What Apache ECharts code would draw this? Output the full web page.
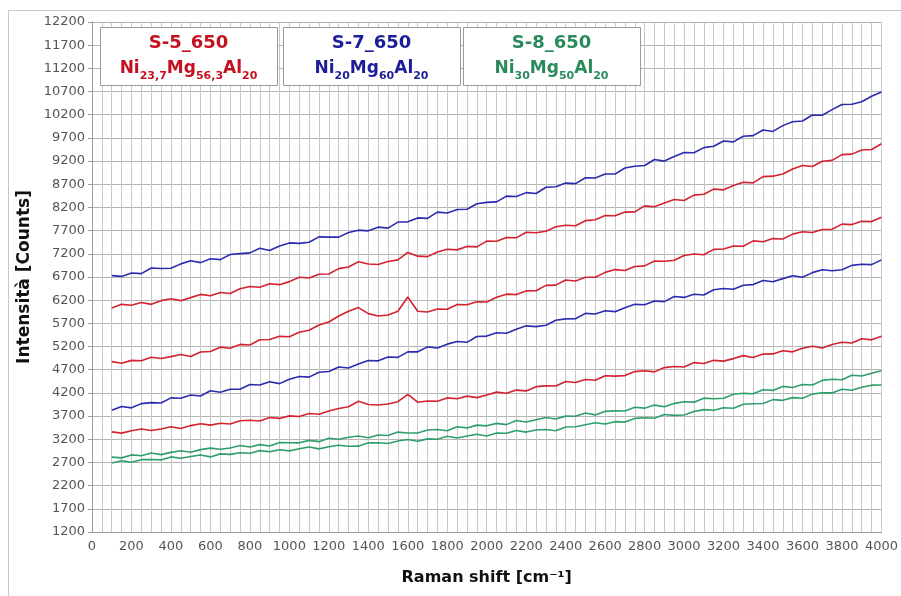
<!DOCTYPE html>
<html>
<head>
<meta charset="utf-8">
<script src="https://cdn.jsdelivr.net/npm/echarts@6/dist/echarts.min.js"></script>
<style>
html,body{margin:0;padding:0;background:#fff;}
#chart{width:901px;height:596px;}
</style>
</head>
<body>
<div id="chart"></div>
<script>
// Raman shift axis positions [cm-1]
const ramanShift = [100,150,200,250,300,350,400,450,500,550,600,650,700,750,800,850,900,950,1000,1050,1100,1150,1200,1250,1300,1350,1400,1450,1500,1550,1600,1650,1700,1750,1800,1850,1900,1950,2000,2050,2100,2150,2200,2250,2300,2350,2400,2450,2500,2550,2600,2650,2700,2750,2800,2850,2900,2950,3000,3050,3100,3150,3200,3250,3300,3350,3400,3450,3500,3550,3600,3650,3700,3750,3800,3850,3900,3950,4000];

// S-7_650 (blue) upper spectrum
const blueUpper = [6730,6713,6785,6773,6895,6883,6890,6983,7050,7010,7095,7075,7185,7205,7220,7320,7270,7370,7435,7425,7450,7565,7560,7560,7660,7710,7695,7775,7755,7885,7890,7975,7965,8100,8080,8155,8160,8280,8310,8320,8445,8435,8520,8500,8635,8645,8725,8715,8840,8835,8920,8920,9050,9090,9105,9235,9200,9300,9385,9380,9490,9520,9635,9615,9735,9750,9870,9840,9965,10050,10065,10195,10190,10310,10420,10425,10480,10600,10690];
// S-5_650 (red) upper spectrum
const redUpper = [6030,6110,6090,6150,6110,6190,6230,6190,6255,6325,6295,6365,6345,6445,6495,6480,6555,6535,6600,6695,6680,6760,6765,6880,6915,7030,6980,6970,7035,7070,7230,7150,7140,7240,7300,7285,7360,7350,7475,7470,7550,7545,7665,7655,7685,7785,7815,7805,7915,7935,8025,8020,8100,8105,8235,8215,8295,8370,8350,8465,8485,8595,8580,8675,8745,8730,8865,8875,8920,9030,9105,9085,9195,9215,9340,9350,9440,9450,9575];
// S-5_650 (red) middle spectrum
const redMiddle = [4875,4841,4902,4894,4970,4941,4982,5029,4985,5082,5094,5187,5164,5246,5233,5346,5353,5420,5410,5510,5550,5665,5730,5860,5960,6040,5910,5860,5880,5960,6270,5960,5945,6010,6005,6105,6100,6165,6160,6265,6330,6320,6400,6405,6520,6525,6635,6615,6695,6695,6800,6860,6840,6925,6940,7045,7040,7060,7165,7197,7179,7296,7303,7370,7362,7479,7461,7528,7520,7625,7675,7660,7725,7730,7840,7830,7900,7895,7990];
// S-7_650 (blue) lower spectrum
const blueLower = [3825,3906,3878,3969,3990,3981,4093,4084,4155,4135,4245,4215,4280,4280,4380,4370,4440,4400,4495,4553,4541,4644,4662,4760,4738,4821,4899,4892,4975,4967,5084,5086,5193,5170,5252,5309,5291,5418,5425,5499,5488,5572,5646,5630,5659,5768,5797,5801,5915,5901,5972,5953,6039,6110,6101,6182,6168,6279,6260,6328,6311,6424,6452,6435,6523,6536,6624,6597,6665,6728,6696,6794,6857,6835,6858,6951,6974,6967,7070];
// S-5_650 (red) lower spectrum
const redLower = [3360,3333,3385,3423,3390,3423,3470,3433,3495,3535,3505,3545,3530,3600,3610,3595,3670,3650,3705,3690,3755,3740,3810,3865,3900,4020,3950,3940,3960,4010,4170,4000,4025,4020,4092,4074,4131,4098,4155,4217,4194,4261,4243,4335,4352,4349,4446,4423,4490,4472,4569,4561,4573,4660,4677,4654,4746,4768,4760,4854,4833,4902,4886,4940,5004,4963,5037,5041,5110,5086,5162,5208,5169,5245,5291,5277,5368,5344,5420];
// S-8_650 (green) upper spectrum
const greenUpper = [2815,2799,2863,2846,2905,2869,2918,2951,2920,2977,3009,2986,3013,3065,3032,3084,3056,3128,3125,3123,3176,3149,3222,3200,3243,3271,3234,3292,3280,3355,3335,3335,3400,3410,3385,3470,3445,3505,3490,3543,3516,3604,3572,3620,3668,3636,3699,3697,3765,3726,3802,3813,3809,3890,3871,3937,3903,3974,4010,4001,4087,4073,4084,4170,4191,4182,4268,4254,4340,4315,4380,4370,4470,4495,4485,4580,4565,4625,4680];
// S-8_650 (green) lower spectrum
const greenLower = [2690,2735,2705,2760,2765,2755,2820,2790,2830,2860,2820,2885,2875,2910,2900,2955,2930,2975,2950,2996,3032,2993,3039,3070,3051,3052,3123,3124,3110,3162,3194,3156,3208,3200,3267,3229,3271,3308,3270,3335,3330,3390,3355,3400,3410,3385,3465,3470,3515,3555,3530,3580,3570,3650,3665,3655,3735,3715,3725,3800,3840,3825,3880,3870,3955,3965,3970,4055,4040,4098,4086,4174,4202,4200,4278,4256,4324,4367,4370];

// Legend box texts
const legendTitles = ['S-5_650', 'S-7_650', 'S-8_650'];
const legendFormulas = [
  [['Ni','23,7'],['Mg','56,3'],['Al','20']],
  [['Ni','20'],['Mg','60'],['Al','20']],
  [['Ni','30'],['Mg','50'],['Al','20']]
];

const RED = '#d2232f', BLUE = '#2b2bb0', GREEN = '#2f9e6c';
const TXT_RED = '#c4101f', TXT_BLUE = '#1d1d9a', TXT_GREEN = '#2a8a5c';
const FONT = 'DejaVu Sans, Liberation Sans, Arial';

function pairs(ys){ return ramanShift.map((x,i)=>[x, ys[i]]); }

const seriesDefs = [
  ['S-7_650 a', blueUpper, BLUE],
  ['S-5_650 a', redUpper, RED],
  ['S-5_650 b', redMiddle, RED],
  ['S-7_650 b', blueLower, BLUE],
  ['S-5_650 c', redLower, RED],
  ['S-8_650 a', greenUpper, GREEN],
  ['S-8_650 b', greenLower, GREEN]
];

const chart = echarts.init(document.getElementById('chart'), null, {renderer:'canvas'});

const boxX = [100, 283, 463], boxW = 177, boxY = 27, boxH = 58;
const txtColors = [TXT_RED, TXT_BLUE, TXT_GREEN];
const graphics = [{
  type:'rect', shape:{x:8.5, y:10.5, width:900, height:600},
  style:{fill:'none', stroke:'#c8c8c8', lineWidth:1}, silent:true, z:-10
}];
legendTitles.forEach((t, i) => {
  const c = txtColors[i];
  graphics.push({
    type:'rect', shape:{x:boxX[i]+0.5, y:boxY+0.5, width:boxW, height:boxH},
    style:{fill:'#fff', stroke:'#9a9a9a', lineWidth:1}, z:10
  });
  let f = '';
  legendFormulas[i].forEach(p => { f += '{m|' + p[0] + '}{s|' + p[1] + '}'; });
  graphics.push({
    type:'text', x: boxX[i] + boxW/2, y: boxY + 29, z:11,
    style:{
      text: '{t|' + t + '}\n' + f,
      align:'center', verticalAlign:'middle',
      fill:c,
      rich:{
        t:{fontSize:18, fontWeight:'bold', fontFamily:FONT, fill:c, lineHeight:26, verticalAlign:'middle'},
        m:{fontSize:17, fontWeight:'bold', fontFamily:FONT, fill:c, lineHeight:26, verticalAlign:'middle'},
        s:{fontSize:11, fontWeight:'bold', fontFamily:FONT, fill:c, lineHeight:26, verticalAlign:'bottom'}
      }
    }
  });
});

chart.setOption({
  animation:false,
  backgroundColor:'#fff',
  grid:{left:92, right:19, top:22, bottom:64, containLabel:false},
  xAxis:{
    type:'value', min:0, max:4000, interval:200,
    name:'Raman shift [cm⁻¹]', nameLocation:'middle', nameGap:38,
    nameTextStyle:{fontSize:16, fontWeight:'bold', color:'#111', fontFamily:FONT},
    axisLine:{show:true, onZero:false, lineStyle:{color:'#9a9a9a'}},
    axisTick:{show:false},
    minorTick:{show:false, splitNumber:4},
    axisLabel:{fontSize:13, color:'#555', margin:8, fontFamily:FONT, formatter:v=>String(v)},
    splitLine:{show:true, lineStyle:{color:'#c8c8c8', width:1}},
    minorSplitLine:{show:true, lineStyle:{color:'#c8c8c8', width:1}}
  },
  yAxis:{
    type:'value', min:1200, max:12200, interval:500,
    name:'Intensità [Counts]', nameLocation:'middle', nameGap:55, nameRotate:90,
    nameTextStyle:{fontSize:17, fontWeight:'bold', color:'#111', fontFamily:FONT},
    axisLine:{show:true, onZero:false, lineStyle:{color:'#9a9a9a'}},
    axisTick:{show:true, length:4, lineStyle:{color:'#9a9a9a'}},
    axisLabel:{fontSize:13, color:'#555', margin:7, fontFamily:FONT, formatter:v=>String(v)},
    splitLine:{show:true, lineStyle:{color:'#b4b4b4', width:1}}
  },
  graphic: graphics,
  series: seriesDefs.map(d => ({
    name:d[0], type:'line', data:pairs(d[1]), showSymbol:false, symbol:'none',
    lineStyle:{color:d[2], width:1.6}, itemStyle:{color:d[2]}, z:3
  }))
});
</script>
</body>
</html>
